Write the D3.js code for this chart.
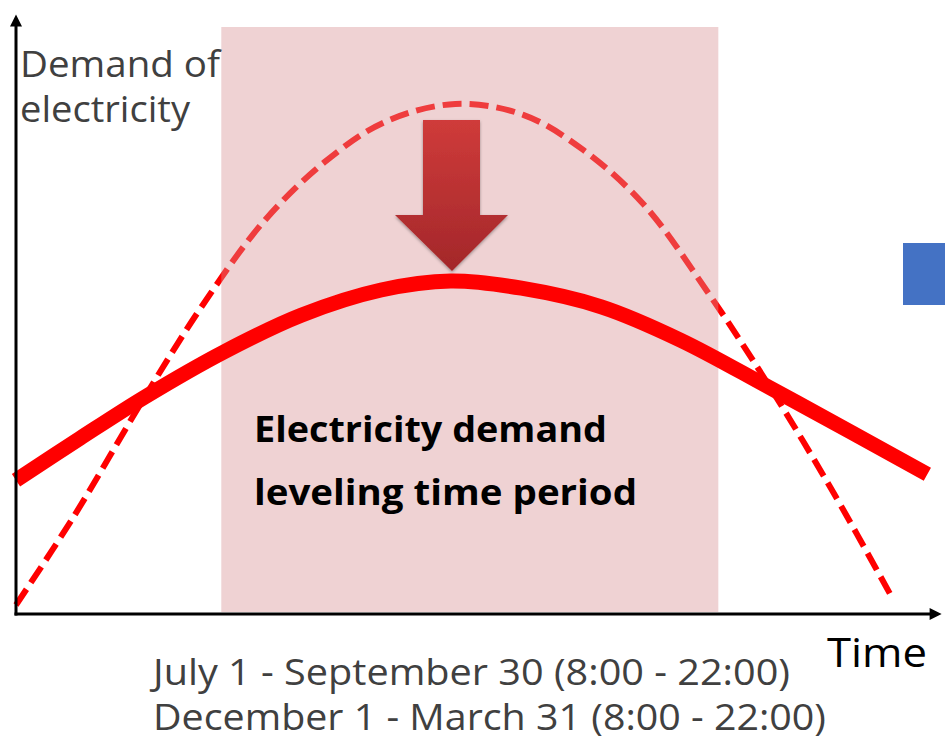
<!DOCTYPE html>
<html>
<head>
<meta charset="utf-8">
<script src="https://cdn.jsdelivr.net/npm/d3@7"></script>
<style>
  html, body { margin: 0; padding: 0; background: #ffffff; }
  svg { display: block; }
</style>
</head>
<body>
<script>
// time runs 0..100 across the x axis, demand 0..100 up the y axis
var peakTime = [0, 6.2, 14.1, 20.1, 26.6, 33.2, 39.7, 47.3, 54.6, 61.1, 67.6, 74.3, 81.0, 88.0, 94.1];
var peakDemand = [1.5, 16.2, 36.8, 51.5, 65.3, 75.3, 82.0, 85.0, 83.2, 77.3, 68.2, 54.0, 38.2, 20.2, 3.3];

var levelTime = [0, 6.9, 13.9, 22.4, 30.7, 39.3, 46.8, 54.4, 63.0, 71.6, 80.8, 90.0, 98.1];
var levelDemand = [22.3, 29.3, 36.2, 43.7, 49.8, 54.0, 55.5, 54.3, 51.2, 45.6, 38.0, 30.2, 23.3];

var periodStart = 22.1, periodEnd = 75.6;

var yLabel = ["Demand of", "electricity"];
var xLabel = "Time";
var periodLabel = ["Electricity demand", "leveling time period"];
var periodDates = ["July 1 - September 30 (8:00 - 22:00)", "December 1 - March 31 (8:00 - 22:00)"];

var width = 945, height = 741;
var x = d3.scaleLinear().domain([0, 100]).range([16, 945]);
var y = d3.scaleLinear().domain([0, 100]).range([614, 14]);

var svg = d3.select("body").append("svg")
  .attr("width", width)
  .attr("height", height);

var defs = svg.append("defs");

defs.append("marker")
  .attr("id", "arrowhead")
  .attr("viewBox", "0 0 10 10")
  .attr("refX", 2)
  .attr("refY", 5)
  .attr("markerWidth", 4.5)
  .attr("markerHeight", 4)
  .attr("markerUnits", "strokeWidth")
  .attr("orient", "auto")
  .append("path")
    .attr("d", "M0,0 L10,5 L0,10 z")
    .attr("fill", "#000000");

var grad = defs.append("linearGradient")
  .attr("id", "arrowfill")
  .attr("x1", 0).attr("y1", 0)
  .attr("x2", 0).attr("y2", 1);
grad.append("stop").attr("offset", "0%").attr("stop-color", "#cf3b3a");
grad.append("stop").attr("offset", "100%").attr("stop-color", "#a3272a");

var shadow = defs.append("filter")
  .attr("id", "shadow")
  .attr("x", "-20%").attr("y", "-20%")
  .attr("width", "140%").attr("height", "140%");
shadow.append("feDropShadow")
  .attr("dx", 0).attr("dy", 1.5)
  .attr("stdDeviation", 1.5)
  .attr("flood-color", "#000000")
  .attr("flood-opacity", 0.35);

var line = d3.line()
  .x(function(d) { return x(d[0]); })
  .y(function(d) { return y(d[1]); })
  .curve(d3.curveCatmullRom.alpha(0.5));

// dashed curve: demand without leveling
svg.append("path")
  .datum(d3.zip(peakTime, peakDemand))
  .attr("d", line)
  .attr("fill", "none")
  .attr("stroke", "#ff0000")
  .attr("stroke-width", 6)
  .attr("stroke-dasharray", "19,8");

// leveling period band
svg.append("rect")
  .attr("x", x(periodStart))
  .attr("y", 27)
  .attr("width", x(periodEnd) - x(periodStart))
  .attr("height", 585)
  .attr("fill", "rgb(217,146,148)")
  .attr("fill-opacity", 0.41);

// solid curve: leveled demand
svg.append("path")
  .datum(d3.zip(levelTime, levelDemand))
  .attr("d", line)
  .attr("fill", "none")
  .attr("stroke", "#ff0000")
  .attr("stroke-width", 15);

// axes
svg.append("line")
  .attr("x1", x(0)).attr("y1", y(0) + 1.5)
  .attr("x2", x(0)).attr("y2", 24)
  .attr("stroke", "#000000")
  .attr("stroke-width", 3)
  .attr("marker-end", "url(#arrowhead)");

svg.append("line")
  .attr("x1", x(0) - 1.5).attr("y1", y(0))
  .attr("x2", 932).attr("y2", y(0))
  .attr("stroke", "#000000")
  .attr("stroke-width", 3)
  .attr("marker-end", "url(#arrowhead)");

// downward arrow
var arrowX = 452, arrowTop = 120, arrowNeck = 215, arrowTip = 271;
svg.append("path")
  .attr("d", "M" + (arrowX - 29) + "," + arrowTop + " L" + (arrowX + 28) + "," + arrowTop +
    " L" + (arrowX + 28) + "," + arrowNeck + " L" + (arrowX + 56) + "," + arrowNeck +
    " L" + arrowX + "," + arrowTip + " L" + (arrowX - 57) + "," + arrowNeck +
    " L" + (arrowX - 29) + "," + arrowNeck + " z")
  .attr("fill", "url(#arrowfill)")
  .attr("filter", "url(#shadow)");

// blue block at right edge
svg.append("rect")
  .attr("x", 903)
  .attr("y", 243)
  .attr("width", 42)
  .attr("height", 62)
  .attr("fill", "#4472c4");

var font = "'Open Sans', 'Noto Sans', sans-serif";

svg.append("g").selectAll("text")
  .data(yLabel)
  .enter().append("text")
    .attr("x", 20)
    .attr("y", function(d, i) { return 77 + i * 45; })
    .attr("font-family", font)
    .attr("font-size", 36)
    .attr("fill", "#404040")
    .attr("textLength", function(d, i) { return i ? 170 : 200; })
    .attr("lengthAdjust", "spacingAndGlyphs")
    .text(function(d) { return d; });

svg.append("g").selectAll("text")
  .data(periodLabel)
  .enter().append("text")
    .attr("x", 254)
    .attr("y", function(d, i) { return 442 + i * 63; })
    .attr("font-family", font)
    .attr("font-weight", "bold")
    .attr("font-size", 36)
    .attr("fill", "#000000")
    .attr("textLength", function(d, i) { return i ? 383 : 353; })
    .attr("lengthAdjust", "spacingAndGlyphs")
    .text(function(d) { return d; });

svg.append("text")
  .attr("x", 827)
  .attr("y", 667)
  .attr("font-family", font)
  .attr("font-size", 40)
  .attr("fill", "#000000")
  .attr("textLength", 100)
  .attr("lengthAdjust", "spacingAndGlyphs")
  .text(xLabel);

svg.append("g").selectAll("text")
  .data(periodDates)
  .enter().append("text")
    .attr("x", 153)
    .attr("y", function(d, i) { return 685 + i * 45; })
    .attr("font-family", font)
    .attr("font-size", 36)
    .attr("fill", "#404040")
    .attr("textLength", function(d, i) { return i ? 673 : 637; })
    .attr("lengthAdjust", "spacingAndGlyphs")
    .text(function(d) { return d; });
</script>
</body>
</html>
